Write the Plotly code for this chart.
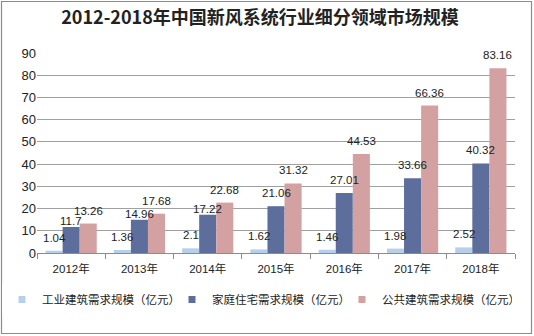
import plotly.graph_objects as go

years = ["2012年", "2013年", "2014年", "2015年", "2016年", "2017年", "2018年"]
industrial = [1.04, 1.36, 2.1, 1.62, 1.46, 1.98, 2.52]
residential = [11.7, 14.96, 17.22, 21.06, 27.01, 33.66, 40.32]
public = [13.26, 17.68, 22.68, 31.32, 44.53, 66.36, 83.16]
y_ticks = [0, 10, 20, 30, 40, 50, 60, 70, 80, 90]

series = [
    ("工业建筑需求规模（亿元）", industrial, "#b7d0ea"),
    ("家庭住宅需求规模（亿元）", residential, "#5d6d9c"),
    ("公共建筑需求规模（亿元）", public, "#d4a1a2"),
]

W, H = 534, 336
ML, MR, MT, MB = 37, 19, 53, 83
BARGAP = 0.25
pw = W - ML - MR
ph = H - MT - MB
bar_px = pw / len(years) * (1 - BARGAP) / len(series)

fig = go.Figure()
for name, vals, color in series:
    fig.add_trace(go.Bar(
        x=years, y=vals, name=name, showlegend=False,
        marker=dict(color=color, line=dict(width=0)),
    ))

# value labels, kept above all bars; a label sitting just below a taller
# neighbour is tucked down so the two stay readable
for k, (name, vals, color) in enumerate(series):
    shift = (k - (len(series) - 1) / 2) * bar_px
    nxt = series[k + 1][1] if k + 1 < len(series) else None
    for i, (yr, v) in enumerate(zip(years, vals)):
        close = nxt is not None and k > 0 and (nxt[i] - v) < 6
        fig.add_annotation(
            x=yr, y=v, xref="x", yref="y", text=f"{v:g}",
            showarrow=False, xanchor="center", yanchor="bottom",
            xshift=shift, yshift=-2 if close else 5,
            font=dict(size=11.5, color="#222222",
                      family="Liberation Sans, sans-serif"),
        )

# small square legend swatches
for name, vals, color in series:
    fig.add_trace(go.Scatter(
        x=[None], y=[None], mode="markers", name=name,
        marker=dict(symbol="square", size=7, color=color),
    ))

# outer frame around the whole figure
fig.add_shape(
    type="rect", xref="paper", yref="paper",
    x0=(1.5 - ML) / pw, x1=(W - 2.5 - ML) / pw,
    y0=(H - MB - (H - 2.5)) / ph, y1=(H - MB - 1.5) / ph,
    line=dict(color="#8c8c8c", width=1.2),
)

fig.update_layout(
    width=W, height=H,
    margin=dict(l=ML, r=MR, t=MT, b=MB, autoexpand=False),
    paper_bgcolor="white", plot_bgcolor="white",
    font=dict(family="Liberation Sans, Noto Sans CJK SC, sans-serif", color="#333333"),
    title=dict(
        text="<b>2012-2018年中国新风系统行业细分领域市场规模</b>",
        xref="container", x=260 / W, xanchor="center",
        y=1 - 18 / H, yanchor="middle",
        font=dict(size=18, family="Noto Sans CJK SC, sans-serif", color="#222222"),
    ),
    barmode="group", bargap=BARGAP, bargroupgap=0,
    showlegend=True,
    legend=dict(
        orientation="h", x=(2 - ML) / pw, xanchor="left",
        y=(H - MB - 285) / ph, yanchor="top",
        font=dict(size=11.5, family="Noto Sans CJK SC, sans-serif", color="#222222"),
        itemwidth=30, itemsizing="trace", traceorder="normal",
        entrywidth=125, entrywidthmode="pixels",
    ),
    xaxis=dict(
        showline=True, linecolor="#8c8c8c", linewidth=1,
        ticks="outside", tickson="boundaries", ticklen=5, tickcolor="#8c8c8c",
        tickfont=dict(size=11.5, color="#222222"),
        ticklabelstandoff=5,
        showgrid=False,
    ),
    yaxis=dict(
        range=[0, 90], tickvals=y_ticks,
        showgrid=True, gridcolor="#a0a0a0", gridwidth=1,
        showline=False, zeroline=False,
        tickfont=dict(size=13, color="#222222"),
    ),
)

fig.write_html("out.html")
